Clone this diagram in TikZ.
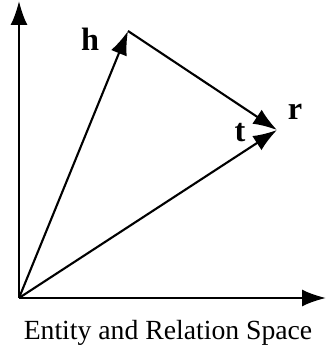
\documentclass[tikz,border=0pt]{standalone}
\usepackage{fontspec}
\setmainfont{Liberation Serif}
\usetikzlibrary{arrows.meta,positioning}
\tikzset{
    vec/.style = {line width=1.5pt, -{Latex[length=17pt, width=12pt]}},
    axis/.style = {line width=1.5pt, -{Latex[length=17pt, width=12pt]}},
    lbl/.style = {font=\fontsize{23}{26}\selectfont\bfseries, inner sep=0pt},
    caption/.style = {font=\fontsize{19.7}{23}\selectfont, inner sep=0pt, anchor=base}
}

\begin{document}
\begin{tikzpicture}[x=0.025cm, y=0.025cm]
    \useasboundingbox (0,0) rectangle (326,350);

    \coordinate (origin) at (19,52);
    \coordinate (ytop) at (19,349);
    \coordinate (xend) at (326,52);
    \coordinate (head) at (128,319);
    \coordinate (tail) at (277,220);

    % axes
    \draw [axis] (origin) -- (ytop);
    \draw [axis] (origin) -- (xend);

    % vectors
    \draw [vec] (origin) -- (head);
    \draw [vec] (head) -- (tail);
    \draw [vec] (origin) -- (tail);

    \node [lbl] (hlabel) at (90,311) {h};
    \node [lbl] (rlabel) at (295,238) {r};
    \node [lbl] (tlabel) at (240,217) {t};
    \node [caption] (space) at (168,11) {Entity and Relation Space};
\end{tikzpicture}
\end{document}
